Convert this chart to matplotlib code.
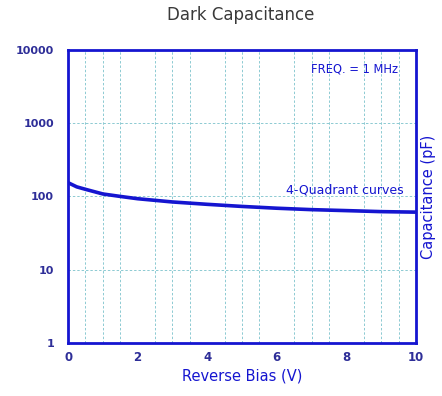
import numpy as np
import matplotlib
matplotlib.use('Agg')
import matplotlib.pyplot as plt

# values
bias_v = [0, 0.25, 0.5, 1, 1.5, 2, 3, 4, 5, 6, 7, 8, 9, 10]
cap_pf = [154, 135, 125, 108, 100, 93, 84, 78, 73, 69, 66, 64, 62, 61]
x_ticks = [0, 2, 4, 6, 8, 10]
y_ticks = [1, 10, 100, 1000, 10000]
y_ticklabels = ['1', '10', '100', '1000', '10000']

blue = '#1515d0'
navy = '#2e2e98'
grid_col = '#8ccad2'

plt.rcParams['font.family'] = ['DejaVu Sans']

fig = plt.figure(figsize=(4.42, 3.96), dpi=100)
ax = fig.add_axes([0.154, 0.134, 0.787, 0.740])

ax.plot(bias_v, cap_pf, color=blue, lw=2.6, solid_capstyle='butt')

ax.set_yscale('log')
ax.set_xlim(0, 10)
ax.set_ylim(1, 10000)

ax.set_xticks(x_ticks)
ax.set_xticklabels([str(t) for t in x_ticks])
ax.set_yticks(y_ticks)
ax.set_yticklabels(y_ticklabels)
ax.yaxis.set_minor_locator(matplotlib.ticker.NullLocator())
ax.set_xticks(np.arange(0.5, 10, 0.5), minor=True)

ax.tick_params(axis='both', which='both', length=0)
ax.tick_params(axis='y', pad=10, labelsize=8, labelcolor=navy)
ax.tick_params(axis='x', pad=6, labelsize=8.5, labelcolor=navy)
for lab in ax.get_yticklabels() + ax.get_xticklabels():
    lab.set_fontweight('bold')

ax.grid(True, axis='x', which='minor', color=grid_col, ls=(0, (2.5, 2)), lw=0.7)
ax.grid(True, axis='y', which='major', color=grid_col, ls=(0, (2.5, 2)), lw=0.7)

for s in ax.spines.values():
    s.set_color(blue)
    s.set_linewidth(2)

ax.set_xlabel('Reverse Bias (V)', color=blue, fontsize=10.5, labelpad=3)
ax.yaxis.set_label_position('right')
ax.set_ylabel('Capacitance (pF)', color=blue, fontsize=10.5, labelpad=4)

ax.text(0.948, 0.935, 'FREQ. = 1 MHz', transform=ax.transAxes, ha='right', va='center',
        color=blue, fontsize=8.3)
ax.text(0.966, 0.522, '4-Quadrant curves', transform=ax.transAxes, ha='right', va='center',
        color=blue, fontsize=9)

fig.text(0.545, 0.962, 'Dark Capacitance', ha='center', va='center', color='#3a3a3a',
         fontsize=12)

fig.savefig('out.png', dpi=100)
